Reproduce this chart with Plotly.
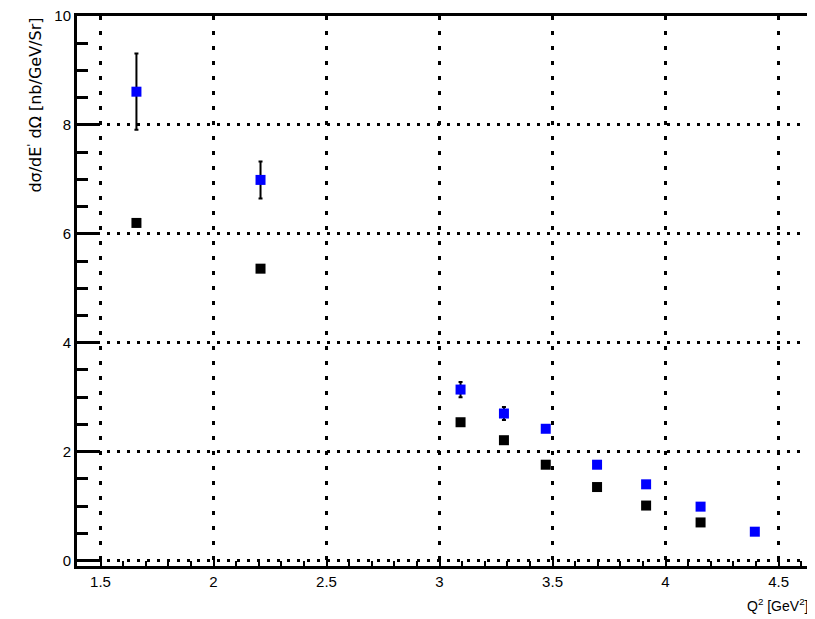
import plotly.graph_objects as go

# Data
q2_black = [1.659, 2.208, 3.093, 3.285, 3.470, 3.697, 3.914, 4.155]
xs_black = [6.20, 5.36, 2.54, 2.21, 1.76, 1.35, 1.01, 0.70]
err_black = [0.06, 0.05, 0.05, 0.05, 0.04, 0.04, 0.03, 0.03]

q2_blue = [1.659, 2.208, 3.093, 3.285, 3.470, 3.697, 3.914, 4.155, 4.395]
xs_blue = [8.61, 6.99, 3.14, 2.70, 2.42, 1.76, 1.40, 0.99, 0.53]
err_blue = [0.70, 0.34, 0.14, 0.12, 0.06, 0.05, 0.05, 0.04, 0.04]

x_ticks = [1.5, 2, 2.5, 3, 3.5, 4, 4.5]
y_ticks = [0, 2, 4, 6, 8, 10]

fig = go.Figure()
fig.add_trace(go.Scatter(
    x=q2_black, y=xs_black, mode="markers",
    marker=dict(symbol="square", size=10, color="black"),
    error_y=dict(type="data", array=err_black, color="black", thickness=2, width=2),
    showlegend=False))
fig.add_trace(go.Scatter(
    x=q2_blue, y=xs_blue, mode="markers",
    marker=dict(symbol="square", size=10, color="#0000ff"),
    error_y=dict(type="data", array=err_blue, color="black", thickness=2, width=2),
    showlegend=False))

font = "Liberation Sans, Arial, Helvetica, sans-serif"
fig.update_layout(
    width=815, height=619,
    margin=dict(l=69, r=11, t=8, b=61),
    paper_bgcolor="white", plot_bgcolor="white",
    font=dict(family=font, size=15, color="black"),
    xaxis=dict(range=[1.396, 4.648], tickvals=x_ticks,
               ticktext=[str(v) for v in x_ticks], automargin=False,
               ticklabeloverflow="allow",
               ticks="inside", ticklen=10, tickwidth=2, tickcolor="black",
               minor=dict(dtick=0.1, ticks="inside", ticklen=5, tickwidth=2, tickcolor="black", showgrid=False),
               showline=True, linewidth=3, linecolor="black", mirror=True,
               showgrid=True, gridcolor="black", gridwidth=3, griddash="4px,11px",
               zeroline=False, tickfont=dict(size=15)),
    yaxis=dict(range=[-0.1, 10], tickvals=y_ticks, automargin=False,
               ticklabeloverflow="allow",
               ticks="inside", ticklen=22, tickwidth=3, tickcolor="black",
               minor=dict(dtick=0.5, ticks="inside", ticklen=11, tickwidth=3, tickcolor="black", showgrid=False),
               showline=True, linewidth=3, linecolor="black", mirror=True,
               showgrid=True, gridcolor="black", gridwidth=3, griddash="3px,7px",
               zeroline=False, tickfont=dict(size=15)),
    annotations=[
        dict(text="Q<sup>2</sup> [GeV<sup>2</sup>]", xref="paper", yref="paper",
             x=0.997, y=-0.07, xanchor="right", yanchor="middle", showarrow=False,
             font=dict(size=14)),
        dict(text="dσ/dE<sup>'</sup> dΩ [nb/GeV/Sr]", xref="paper", yref="paper",
             x=-0.057, y=1.0, xanchor="center", yanchor="top", textangle=-90,
             showarrow=False, font=dict(size=16, family="DejaVu Sans")),
    ],
)

fig.write_html("out.html")
